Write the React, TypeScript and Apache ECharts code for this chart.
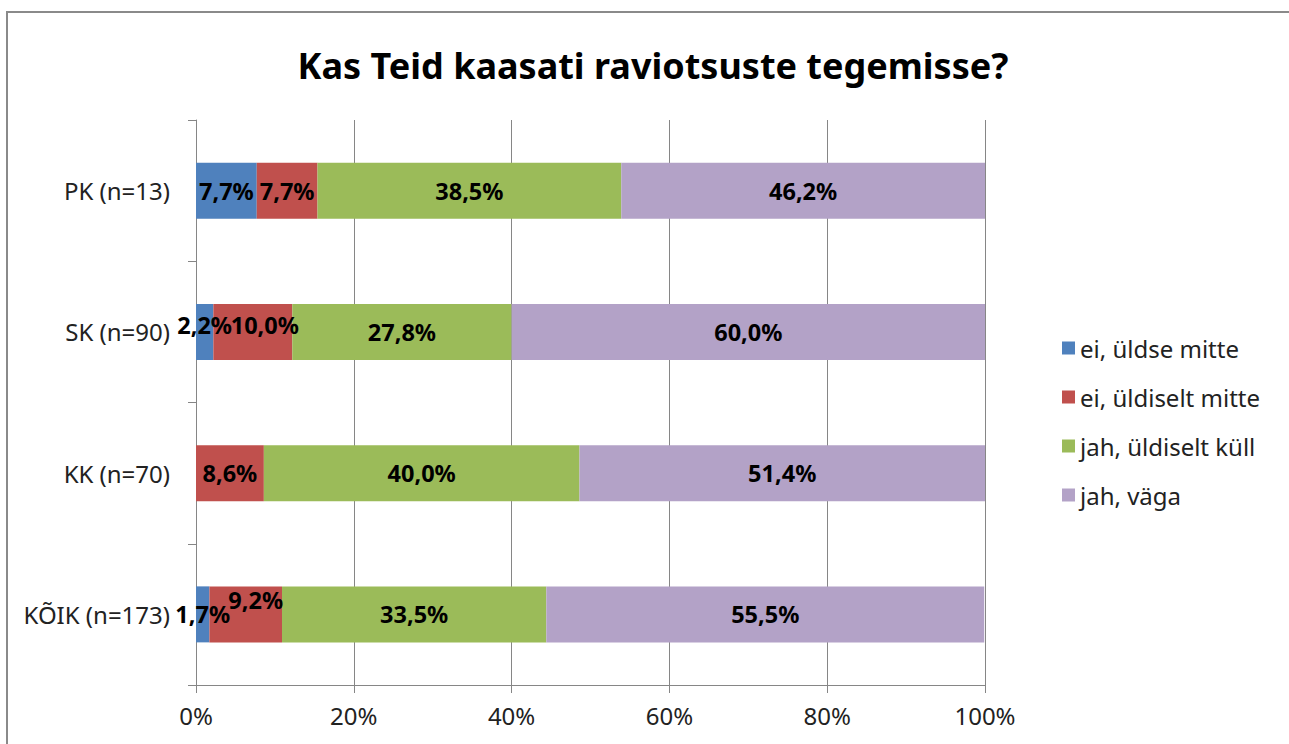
import React, { useEffect, useRef } from "react";
import * as echarts from "echarts";

const categories = ["PK (n=13)", "SK (n=90)", "KK (n=70)", "KÕIK (n=173)"];
const seriesNames = ["ei, üldse mitte", "ei, üldiselt mitte", "jah, üldiselt küll", "jah, väga"];
const eiUldseMitte = [7.7, 2.2, 0, 1.7];
const eiUldiseltMitte = [7.7, 10.0, 8.6, 9.2];
const jahUldiseltKull = [38.5, 27.8, 40.0, 33.5];
const jahVaga = [46.2, 60.0, 51.4, 55.5];
const xTicks = [0, 20, 40, 60, 80, 100];

const colors = ["#4F81BD", "#C0504D", "#9BBB59", "#B3A2C7"];
// label nudges (style only), mimicking the reference's overlap avoidance
const labelOffsets: Record<string, [number, number]> = {
  "0-1": [0, -7],
  "1-1": [12, -7],
  "1-3": [10, -14],
};

const FONT = "'Noto Sans', sans-serif";

export default function App() {
  const ref = useRef<HTMLDivElement>(null);
  useEffect(() => {
    const chart = echarts.init(ref.current!, undefined, { renderer: "svg" });
    const all = [eiUldseMitte, eiUldiseltMitte, jahUldiseltKull, jahVaga];
    const series = all.map((vals, si) => ({
      name: seriesNames[si],
      type: "bar",
      stack: "total",
      barWidth: 56,
      itemStyle: { color: colors[si] },
      label: {
        show: true,
        position: "inside",
        color: "#000",
        fontFamily: FONT,
        fontWeight: "bold",
        fontSize: 23.5,
        formatter: (p: any) => (p.value > 0 ? p.value.toFixed(1).replace(".", ",") + "%" : ""),
      },
      data: vals.map((v, ci) => {
        const off = labelOffsets[si + "-" + ci];
        return off ? { value: v, label: { offset: off } } : { value: v };
      }),
    }));
    chart.setOption({
      animation: false,
      backgroundColor: "#fff",
      title: {
        text: "Kas Teid kaasati raviotsuste tegemisse?",
        left: 648,
        textAlign: "center",
        top: 42,
        textStyle: { fontFamily: FONT, fontWeight: "bold", fontSize: 36, color: "#000" },
      },
      graphic: [
        {
          type: "rect",
          shape: { x: 7, y: 12, width: 1400, height: 900 },
          style: { fill: "none", stroke: "#8a8a8a", lineWidth: 2 },
          silent: true,
        },
      ],
      legend: {
        orient: "vertical",
        left: 1057,
        top: 331,
        itemWidth: 13,
        itemHeight: 13,
        itemGap: 25,
        icon: "rect",
        data: seriesNames,
        textStyle: { fontFamily: FONT, fontSize: 24, color: "#222", lineHeight: 24 },
      },
      grid: { left: 196, right: 304, top: 120, bottom: 59, containLabel: false },
      xAxis: {
        type: "value",
        min: xTicks[0],
        max: xTicks[xTicks.length - 1],
        interval: 20,
        axisLine: { show: true, lineStyle: { color: "#868686", width: 1 } },
        axisTick: { show: true, length: 8, lineStyle: { color: "#868686" } },
        splitLine: { show: true, lineStyle: { color: "#868686", width: 1 } },
        axisLabel: {
          formatter: "{value}%",
          fontFamily: FONT,
          fontSize: 24,
          color: "#222",
          margin: 18,
        },
      },
      yAxis: {
        type: "category",
        inverse: true,
        data: categories,
        axisLine: { show: true, lineStyle: { color: "#868686", width: 1 } },
        axisTick: { show: true, length: 8, lineStyle: { color: "#868686" } },
        axisLabel: { fontFamily: FONT, fontSize: 24, color: "#222", margin: 26 },
      },
      series,
    });
    return () => chart.dispose();
  }, []);
  return (
    <div
      ref={ref}
      style={{ position: "fixed", left: 0, top: 0, width: 1289, height: 744 }}
    />
  );
}
